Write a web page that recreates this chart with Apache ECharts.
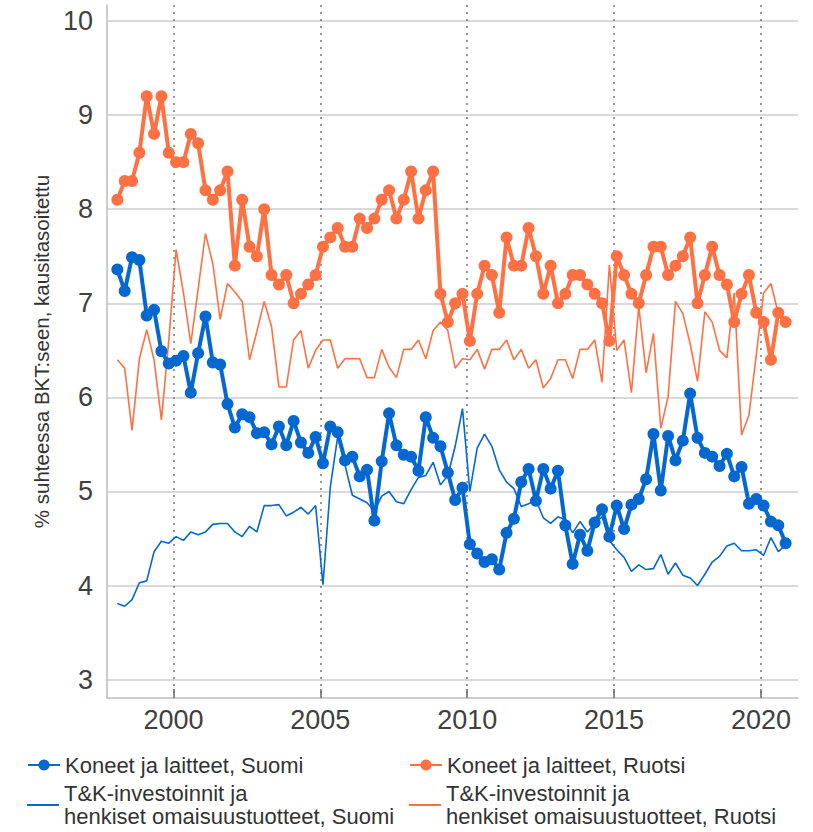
<!DOCTYPE html>
<html><head><meta charset="utf-8">
<script src="https://cdn.jsdelivr.net/npm/echarts@6/dist/echarts.min.js"></script>
<style>html,body{margin:0;padding:0;background:#fff;overflow:hidden}#c{width:813px;height:832px}</style>
</head><body><div id="c"></div>
<script>
// Quarterly categories 1998Q1 .. 2020Q4
const quarters = [];
for (let y = 1998; y <= 2020; y++) for (let q = 1; q <= 4; q++) quarters.push(y + 'Q' + q);

const koneetSuomi = [7.36,7.13,7.49,7.46,6.87,6.93,6.49,6.36,6.39,6.44,
  6.05,6.47,6.86,6.37,6.35,5.93,5.68,5.82,5.79,5.62,
  5.63,5.50,5.69,5.49,5.75,5.52,5.41,5.58,5.30,5.69,
  5.63,5.33,5.37,5.16,5.23,4.69,5.32,5.83,5.49,5.39,
  5.37,5.22,5.79,5.57,5.48,5.20,4.91,5.04,4.44,4.34,
  4.25,4.28,4.17,4.56,4.71,5.10,5.24,4.90,5.24,5.03,
  5.22,4.64,4.23,4.54,4.37,4.67,4.81,4.52,4.85,4.60,
  4.86,4.92,5.13,5.61,5.01,5.59,5.33,5.54,6.04,5.57,
  5.41,5.37,5.27,5.40,5.16,5.26,4.87,4.92,4.85,4.68,
  4.64,4.45];
const koneetRuotsi = [8.1,8.3,8.3,8.6,9.2,8.8,9.2,8.6,8.5,8.5,
  8.8,8.7,8.2,8.1,8.2,8.4,7.4,8.1,7.6,7.5,
  8.0,7.3,7.2,7.3,7.0,7.1,7.2,7.3,7.6,7.7,
  7.8,7.6,7.6,7.9,7.8,7.9,8.1,8.2,7.9,8.1,
  8.4,7.9,8.2,8.4,7.1,6.8,7.0,7.1,6.6,7.1,
  7.4,7.3,6.9,7.7,7.4,7.4,7.8,7.5,7.1,7.4,
  7.0,7.1,7.3,7.3,7.2,7.1,7.0,6.6,7.5,7.3,
  7.1,7.0,7.3,7.6,7.6,7.3,7.4,7.5,7.7,7.0,
  7.3,7.6,7.3,7.2,6.8,7.1,7.3,6.9,6.8,6.4,
  6.9,6.8];
const tkSuomi = [3.81,3.78,3.85,4.03,4.05,4.36,4.47,4.45,4.52,4.48,
  4.57,4.54,4.57,4.65,4.66,4.66,4.57,4.52,4.63,4.57,
  4.85,4.85,4.86,4.74,4.78,4.83,4.76,4.85,4.01,5.05,
  5.58,5.28,4.96,4.92,4.88,4.79,4.95,5.00,4.89,4.87,
  5.02,5.15,5.17,5.31,5.07,5.17,5.48,5.88,5.00,5.46,
  5.61,5.48,5.23,5.10,5.03,4.84,4.87,4.91,4.72,4.66,
  4.73,4.70,4.56,4.68,4.57,4.66,4.73,4.48,4.38,4.30,
  4.15,4.22,4.17,4.18,4.33,4.12,4.24,4.11,4.08,4.00,
  4.12,4.25,4.31,4.42,4.45,4.37,4.37,4.38,4.32,4.51,
  4.36,4.43];
const tkRuotsi = [6.40,6.31,5.65,6.41,6.72,6.40,5.76,6.6,7.57,7.11,
  6.57,7.15,7.74,7.42,6.83,7.21,7.12,7.02,6.40,6.7,
  7.02,6.75,6.11,6.11,6.61,6.71,6.31,6.50,6.61,6.61,
  6.31,6.41,6.41,6.41,6.21,6.21,6.51,6.32,6.21,6.51,
  6.51,6.61,6.41,6.71,6.80,6.71,6.31,6.41,6.40,6.51,
  6.30,6.51,6.51,6.61,6.40,6.51,6.31,6.40,6.10,6.20,
  6.40,6.40,6.20,6.51,6.51,6.61,6.16,7.41,6.50,6.61,
  6.05,6.97,6.26,6.68,5.67,6.01,7.02,6.89,6.57,6.17,
  6.91,6.80,6.50,6.42,7.11,5.60,5.81,6.45,7.11,7.21,
  6.89,6.8];

const yTicks = [3,4,5,6,7,8,9,10];
const xTicks = [2000,2005,2010,2015,2020];

const names = ['Koneet ja laitteet, Suomi','Koneet ja laitteet, Ruotsi',
  'T&K-investoinnit ja\nhenkiset omaisuustuotteet, Suomi',
  'T&K-investoinnit ja\nhenkiset omaisuustuotteet, Ruotsi'];
const BLUE = '#0568d0', ORANGE = '#ff7043';
const FONT = '"Liberation Sans", Arial, sans-serif';

function qx(label){ const y = +label.slice(0,4), q = +label.slice(5); return y + (q-1)/4 + 0.09; }
function pairs(vals){ return quarters.map((c,i)=>[qx(c), vals[i]]); }

const chart = echarts.init(document.getElementById('c'), null, {renderer:'svg'});
const legendText = {fontSize:22, color:'#333', fontFamily:FONT, lineHeight:23};
const legBase = {padding:0, itemWidth:32, itemHeight:14, itemGap:0, textStyle:legendText};
chart.setOption({
  animation:false,
  backgroundColor:'#fff',
  grid:{left:107, right:15, top:5, bottom:134, containLabel:false},
  xAxis:{type:'value', min:1997.738, max:2021.261,
    axisLine:{show:true, lineStyle:{color:'#bdbdbd', width:1.5}},
    axisTick:{show:true, customValues:xTicks, inside:true, length:9, lineStyle:{color:'#666', width:1.5}},
    axisLabel:{customValues:xTicks, fontSize:27, color:'#404040', fontFamily:FONT, margin:8,
      formatter: v => String(v)},
    splitLine:{show:true, lineStyle:{type:[2,5], color:'#777', width:1.5}}
  },
  yAxis:{type:'value', min:2.805, max:10.17,
    name:'% suhteessa BKT:seen, kausitasoitettu', nameLocation:'middle', nameGap:55,
    nameTextStyle:{fontSize:20.5, color:'#333', fontFamily:FONT},
    axisLine:{show:true, lineStyle:{color:'#bdbdbd', width:1.5}},
    axisTick:{show:false, customValues:yTicks},
    axisLabel:{customValues:yTicks, fontSize:27, color:'#404040', fontFamily:FONT, margin:14},
    splitLine:{show:true, lineStyle:{color:'#cccccc', width:1.5}}
  },
  legend:[
    Object.assign({data:[names[0]], left:27, top:753}, legBase, {textStyle:Object.assign({}, legendText, {lineHeight:24})}),
    Object.assign({data:[names[1]], left:409, top:753}, legBase, {textStyle:Object.assign({}, legendText, {lineHeight:24})}),
    Object.assign({data:[{name:names[2], icon:'rect', itemStyle:{color:BLUE}}], left:27, top:782}, legBase, {itemHeight:2}),
    Object.assign({data:[{name:names[3], icon:'rect', itemStyle:{color:ORANGE}}], left:409, top:782}, legBase, {itemHeight:2})
  ],
  series:[
    {name:names[2], type:'line', data:pairs(tkSuomi), showSymbol:false, symbol:'none', z:2,
      lineStyle:{width:1.6, color:BLUE}, itemStyle:{color:BLUE}},
    {name:names[3], type:'line', data:pairs(tkRuotsi), showSymbol:false, symbol:'none', z:2,
      lineStyle:{width:1.6, color:ORANGE}, itemStyle:{color:ORANGE}},
    {name:names[0], type:'line', data:pairs(koneetSuomi), symbol:'circle', symbolSize:12, z:3,
      lineStyle:{width:4, color:BLUE}, itemStyle:{color:BLUE}},
    {name:names[1], type:'line', data:pairs(koneetRuotsi), symbol:'circle', symbolSize:12, z:3,
      lineStyle:{width:4, color:ORANGE}, itemStyle:{color:ORANGE}}
  ]
});
</script></body></html>
